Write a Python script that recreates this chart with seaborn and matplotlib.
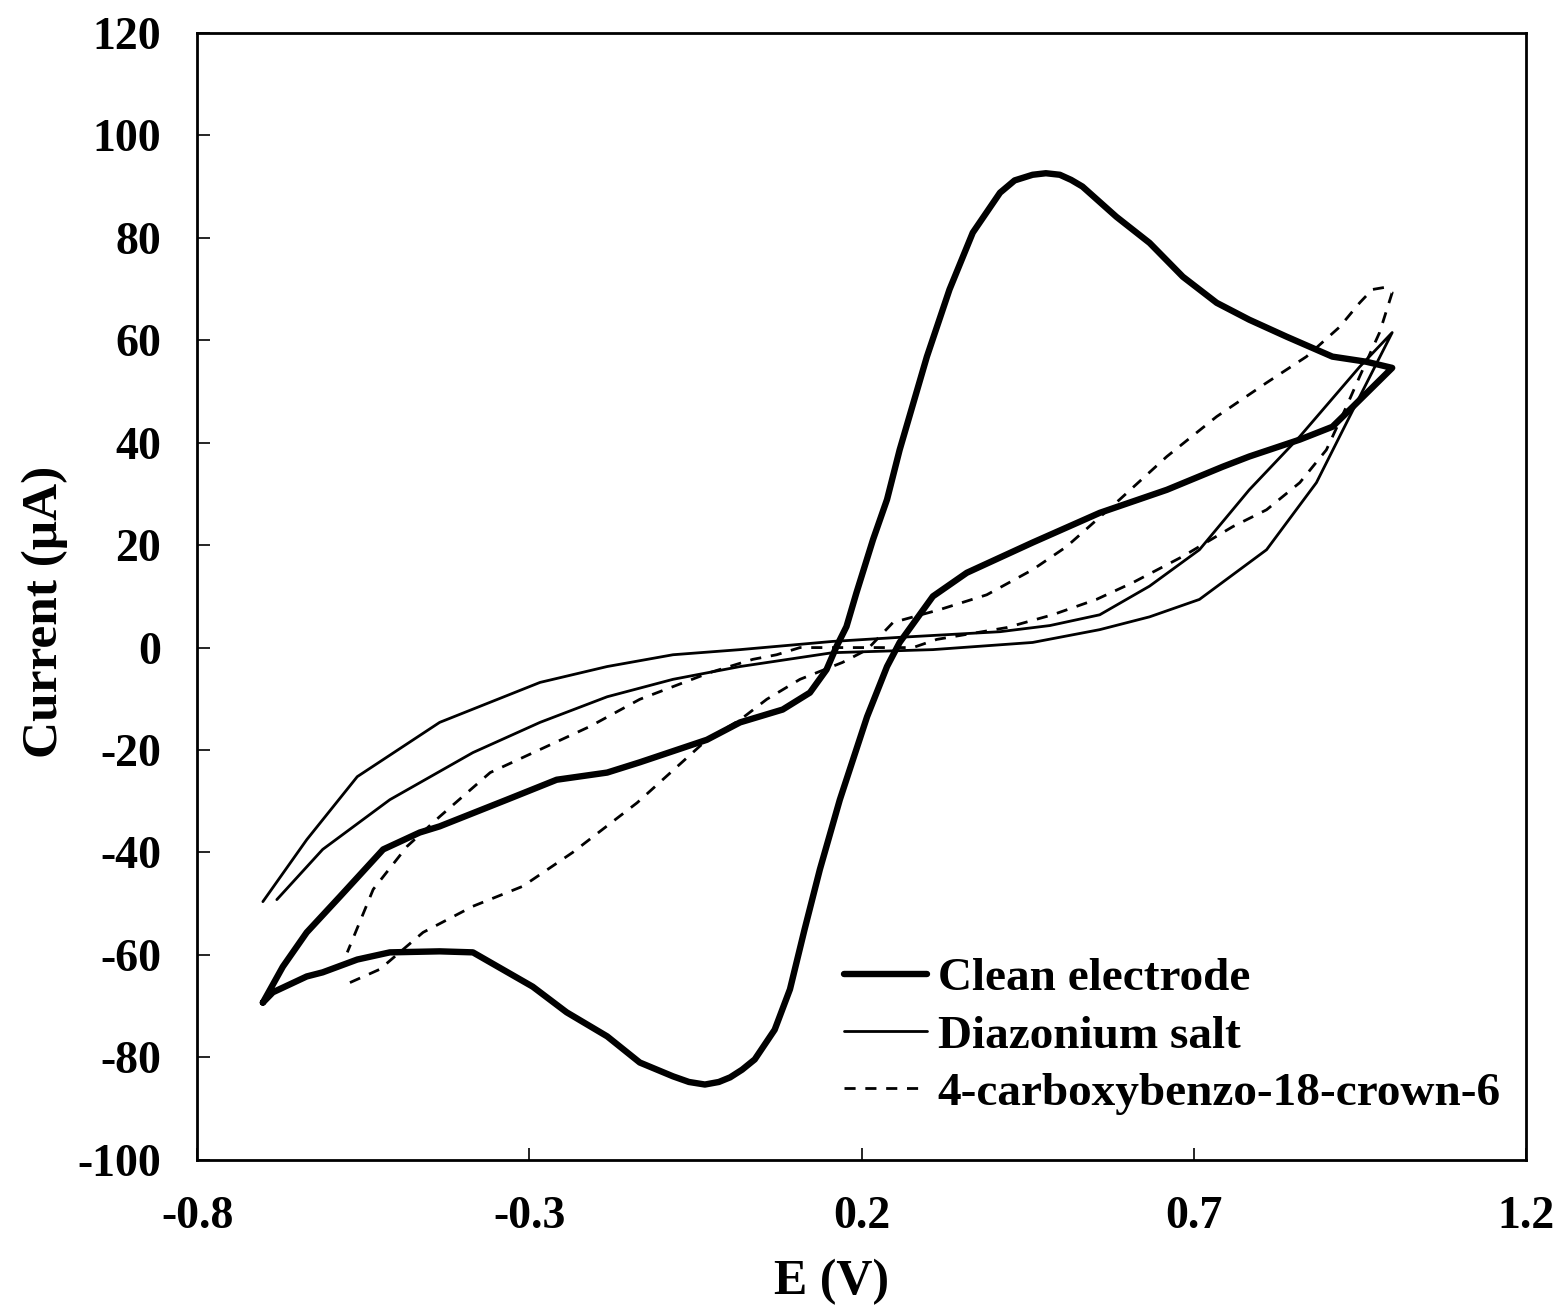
import numpy as np
import pandas as pd
import matplotlib
matplotlib.use("Agg")
import matplotlib.pyplot as plt
import seaborn as sns

sns.set_style("white")
plt.rcParams["font.family"] = ["Liberation Serif", "DejaVu Serif"]
plt.rcParams["font.weight"] = "bold"
plt.rcParams["axes.unicode_minus"] = False
plt.rcParams["text.color"] = "black"
plt.rcParams["axes.labelcolor"] = "black"

# ---------------------------------------------------------------------------
# Data (E in V, current in uA), in scan order
# ---------------------------------------------------------------------------

clean_E = [-0.701, -0.671, -0.635, -0.585, -0.520, -0.465, -0.435, -0.334, -0.259, -0.183,
           -0.134, -0.033, 0.017, 0.081, 0.122, 0.147, 0.162, 0.177, 0.192, 0.217,
           0.238, 0.257, 0.298, 0.332, 0.367, 0.408, 0.430, 0.457, 0.477, 0.498,
           0.515, 0.532, 0.583, 0.633, 0.683, 0.734, 0.783, 0.839, 0.908, 0.959, 0.998,
           0.934, 0.908, 0.859, 0.783, 0.743, 0.659, 0.558, 0.457, 0.358, 0.307,
           0.257, 0.238, 0.208, 0.167, 0.137, 0.114, 0.092, 0.069, 0.039, 0.020,
           0.002, -0.015, -0.036, -0.060, -0.084, -0.134, -0.183, -0.244, -0.295, -0.385,
           -0.435, -0.510, -0.559, -0.611, -0.635, -0.686, -0.701]
clean_I = [-69.3, -62.3, -55.6, -48.6, -39.4, -36.1, -34.9, -29.7, -25.8, -24.4,
           -22.4, -18.0, -14.6, -12.1, -8.8, -4.3, 0.2, 4.1, 10.7, 21.1,
           28.9, 38.6, 56.8, 69.9, 81.0, 88.8, 91.2, 92.3, 92.6, 92.3,
           91.3, 90.0, 84.1, 79.0, 72.4, 67.3, 64.0, 60.7, 56.8, 55.8, 54.6,
           46.4, 43.1, 40.6, 37.3, 35.3, 30.8, 26.3, 20.5, 14.6, 10.0,
           1.0, -3.7, -13.5, -29.7, -43.3, -55.0, -66.7, -74.6, -80.4, -82.4,
           -83.9, -84.8, -85.3, -84.8, -83.7, -81.0, -75.9, -71.2, -66.2, -59.5,
           -59.3, -59.5, -60.9, -63.4, -64.2, -67.3, -69.3]

diaz_E = [-0.701, -0.635, -0.559, -0.435, -0.284, -0.183, -0.084, 0.017, 0.156, 0.257,
          0.408, 0.483, 0.558, 0.633, 0.708, 0.783, 0.859, 0.949, 0.998,
          0.934, 0.884, 0.809, 0.708, 0.633, 0.558, 0.457, 0.307, 0.156, 0.017,
          -0.084, -0.183, -0.284, -0.385, -0.510, -0.611, -0.680]
diaz_I = [-49.6, -37.5, -25.2, -14.6, -6.8, -3.7, -1.4, -0.4, 1.2, 2.0,
          3.1, 4.3, 6.4, 12.0, 19.1, 30.8, 41.2, 54.8, 61.5,
          45.1, 32.2, 19.1, 9.4, 6.0, 3.5, 1.0, -0.4, -1.0, -3.7,
          -6.2, -9.6, -14.6, -20.5, -29.7, -39.4, -49.2]

crown_E = [-0.570, -0.525, -0.460, -0.385, -0.310, -0.235, -0.138, -0.033, 0.017, 0.057,
           0.107, 0.171, 0.208, 0.247, 0.317, 0.388, 0.457, 0.508, 0.588, 0.659,
           0.734, 0.809, 0.869, 0.919, 0.949, 0.968, 0.986, 0.998,
           0.979, 0.949, 0.929, 0.899, 0.859, 0.809, 0.758, 0.683, 0.608, 0.553,
           0.487, 0.418, 0.313, 0.277, 0.197, 0.107, 0.072, 0.036, -0.029, -0.134,
           -0.209, -0.284, -0.359, -0.435, -0.484, -0.535, -0.574]
crown_I = [-65.4, -62.8, -55.6, -50.5, -46.6, -40.0, -30.3, -18.0, -14.1, -10.1,
           -6.2, -2.9, -0.4, 4.9, 7.4, 10.3, 15.2, 19.7, 28.9, 37.3,
           45.1, 51.7, 56.8, 62.6, 67.3, 69.9, 70.3, 69.3,
           61.5, 52.9, 47.0, 38.6, 32.2, 26.9, 23.6, 17.8, 12.7, 9.4,
           6.4, 3.9, 1.6, 0.0, 0.0, 0.0, -1.4, -2.3, -4.9, -10.1,
           -15.4, -19.9, -24.4, -33.0, -38.8, -47.2, -59.5]

labels = ["Clean electrode", "Diazonium salt", "4-carboxybenzo-18-crown-6"]
x_ticks = [-0.8, -0.3, 0.2, 0.7, 1.2]
y_ticks = list(range(-100, 121, 20))

# ---------------------------------------------------------------------------

fig = plt.figure(figsize=(15.64, 13.15), dpi=100)
ax = fig.add_axes([0.126, 0.118, 0.850, 0.857])

styles = [
    dict(linewidth=4.6, linestyle="-"),
    dict(linewidth=2.0, linestyle="-"),
    dict(linewidth=2.0, linestyle=(0, (4, 3.5))),
]
series = [(clean_E, clean_I), (diaz_E, diaz_I), (crown_E, crown_I)]

for (e, i), lab, st in zip(series, labels, styles):
    df = pd.DataFrame({"E": e, "I": i})
    sns.lineplot(data=df, x="E", y="I", sort=False, estimator=None, color="black",
                 label=lab, ax=ax, solid_joinstyle="round", **st)

ax.set_xlim(-0.8, 1.2)
ax.set_ylim(-100, 120)
ax.set_xticks(x_ticks)
ax.set_xticklabels([f"{v:.1f}" for v in x_ticks])
ax.set_yticks(y_ticks)
ax.set_yticklabels([str(v) for v in y_ticks])

for sp in ax.spines.values():
    sp.set_visible(True)
    sp.set_color("black")
    sp.set_linewidth(2.0)

ax.tick_params(axis="both", direction="in", length=9, width=1.2, colors="black",
               labelsize=33, pad=26, top=False, right=False, bottom=True, left=True)
for t in ax.get_xticklabels() + ax.get_yticklabels():
    t.set_fontweight("bold")
    t.set_color("black")

ax.set_xlabel("E (V)", fontsize=36, fontweight="bold", color="black")
ax.set_ylabel("Current (μA)", fontsize=37, fontweight="bold", color="black")
ax.xaxis.set_label_coords(0.477, -0.088)
ax.yaxis.set_label_coords(-0.097, 0.486)

leg = ax.legend(loc="lower left", bbox_to_anchor=(0.487, 0.040), frameon=False,
                fontsize=34, handlelength=1.75, handletextpad=0.22, labelspacing=0.3,
                borderpad=0, borderaxespad=0)
for t in leg.get_texts():
    t.set_fontweight("bold")
    t.set_color("black")

fig.savefig("out.png", dpi=100, facecolor="white")
